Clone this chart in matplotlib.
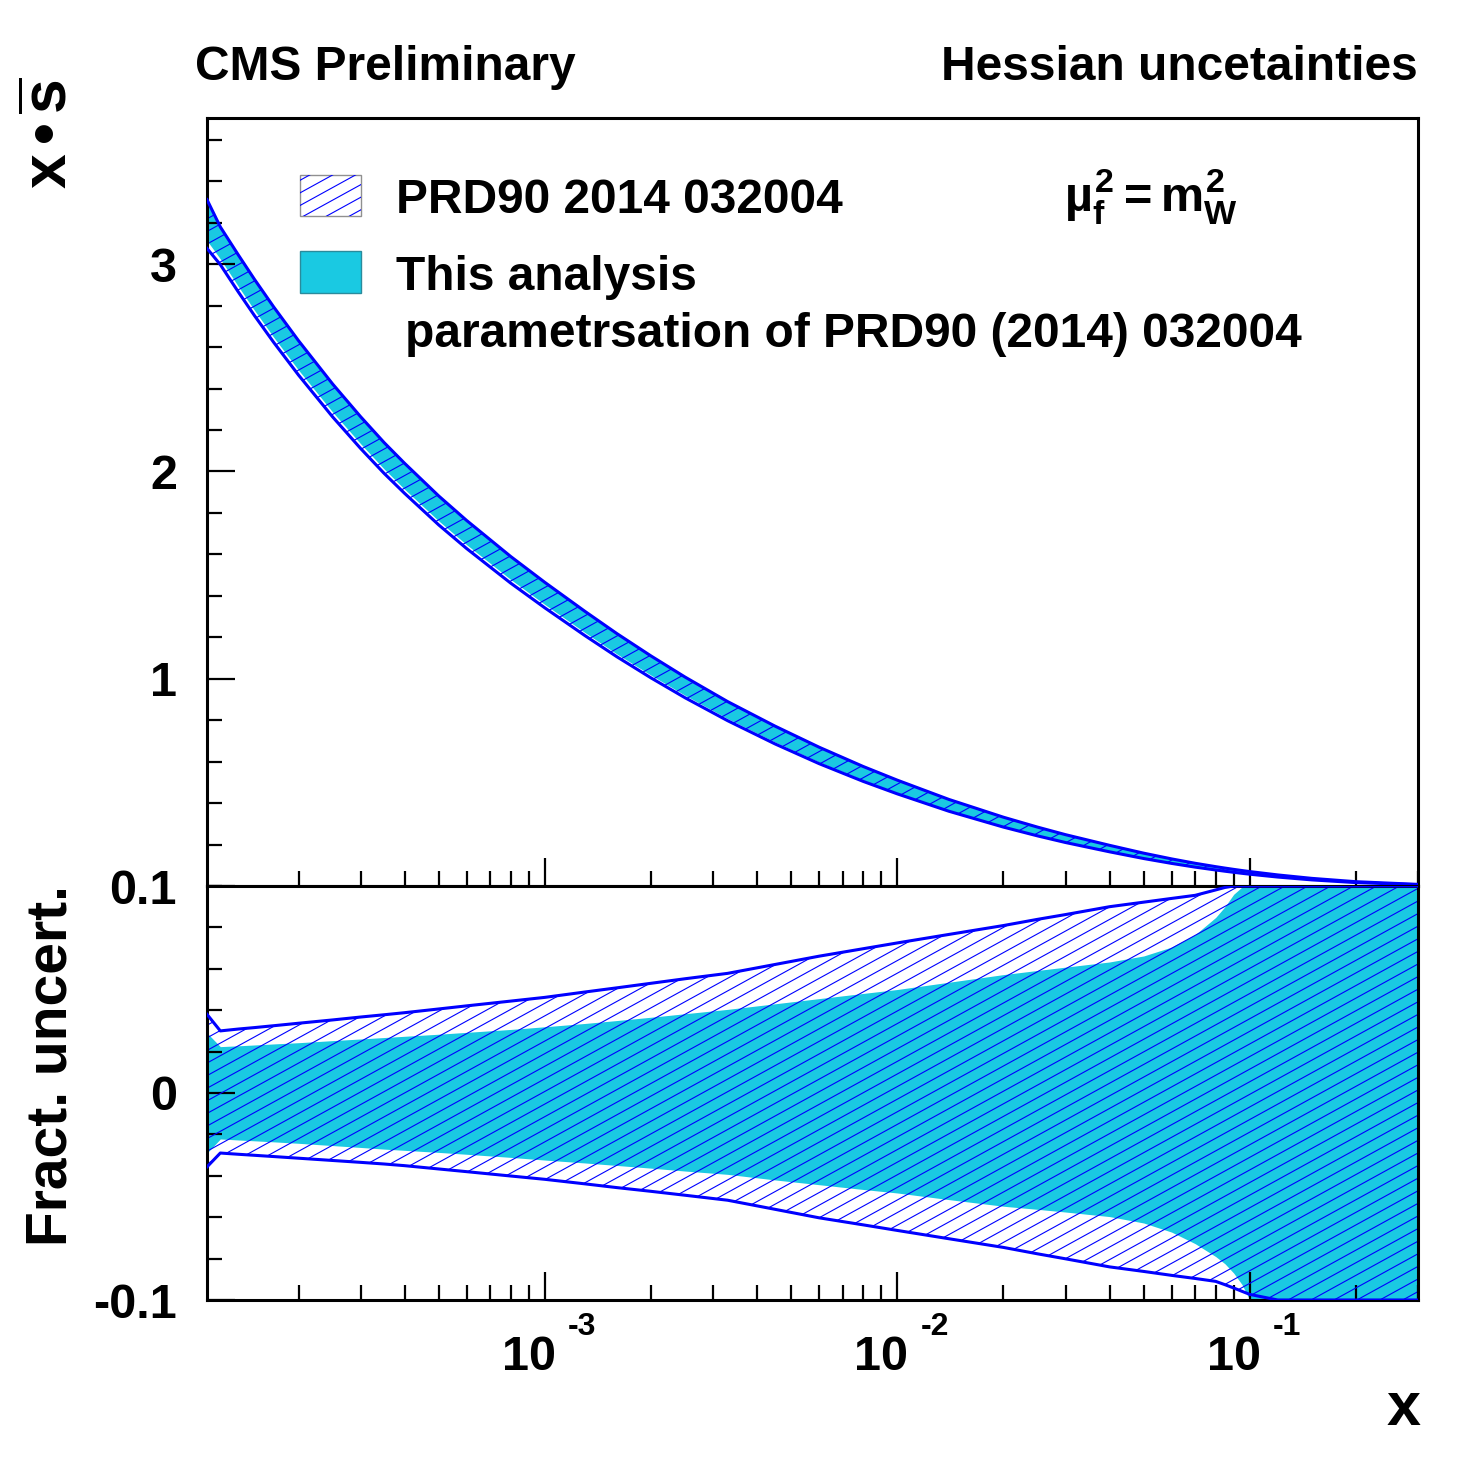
import numpy as np
import matplotlib
matplotlib.use("Agg")
import matplotlib.pyplot as plt
from matplotlib.collections import LineCollection
from matplotlib.transforms import IdentityTransform, blended_transform_factory
from matplotlib.patches import Rectangle
from matplotlib.ticker import FixedLocator, MultipleLocator, LogLocator, NullFormatter, FuncFormatter

plt.rcParams['font.family'] = ['Liberation Sans', 'DejaVu Sans']
plt.rcParams['font.weight'] = 'bold'
plt.rcParams['axes.unicode_minus'] = False
plt.rcParams['mathtext.fontset'] = 'custom'
plt.rcParams['mathtext.rm'] = 'Liberation Sans:bold'
plt.rcParams['mathtext.it'] = 'Liberation Sans:bold'
plt.rcParams['mathtext.bf'] = 'Liberation Sans:bold'
plt.rcParams['mathtext.sf'] = 'Liberation Sans:bold'

# ---------------- data ----------------
x_vals = [1.1e-4, 1.2e-4, 1.35e-4, 1.5e-4, 1.7e-4, 2e-4, 2.5e-4, 3e-4, 3.5e-4, 4e-4,
          5e-4, 6e-4, 8e-4, 1e-3, 1.3e-3, 1.6e-3, 2e-3, 2.5e-3, 3.3e-3, 4.5e-3,
          6e-3, 8e-3, 1e-2, 1.4e-2, 2e-2, 2.5e-2, 3e-2, 4e-2, 5e-2, 6e-2,
          7e-2, 8e-2, 8.5e-2, 9e-2, 9.5e-2, 0.1, 0.12, 0.15, 0.2, 0.3]
# central x*sbar (PRD90 2014 032004)
xsbar_central = [3.190, 3.087, 2.953, 2.837, 2.706, 2.545, 2.339, 2.184, 2.061, 1.963,
                 1.808, 1.692, 1.522, 1.400, 1.263, 1.159, 1.054, 0.955, 0.841, 0.726,
                 0.628, 0.539, 0.476, 0.388, 0.307, 0.262, 0.228, 0.180, 0.145, 0.1195,
                 0.100, 0.085, 0.0786, 0.0729, 0.0677, 0.063, 0.0482, 0.0331, 0.0186, 0.007]
# PRD90 fractional uncertainty (up / down)
prd_up = [0.038, 0.030, 0.0309, 0.0316, 0.0325, 0.0337, 0.0353, 0.0367, 0.0378, 0.0388,
          0.0406, 0.0421, 0.0444, 0.0462, 0.0488, 0.0508, 0.0530, 0.0552, 0.0578, 0.0621,
          0.0661, 0.0697, 0.0725, 0.0766, 0.0809, 0.0839, 0.0862, 0.090, 0.0922, 0.0940,
          0.0955, 0.0981, 0.0993, 0.1005, 0.102, 0.104, 0.108, 0.112, 0.117, 0.122]
prd_dn = [-0.0357, -0.029, -0.0296, -0.0301, -0.0307, -0.0315, -0.0326, -0.0335, -0.0343, -0.0351,
          -0.0367, -0.0380, -0.0401, -0.0417, -0.0439, -0.0457, -0.0475, -0.0494, -0.0518, -0.0562,
          -0.0603, -0.0637, -0.0664, -0.0704, -0.0746, -0.0777, -0.0801, -0.084, -0.0862, -0.0881,
          -0.0896, -0.091, -0.0926, -0.0942, -0.0958, -0.0973, -0.104, -0.11, -0.118, -0.125]
# This analysis fractional uncertainty (up / down)
this_up = [0.029, 0.0224, 0.0228, 0.0232, 0.0237, 0.0243, 0.0253, 0.0261, 0.0268, 0.0274,
           0.0284, 0.0293, 0.0307, 0.032, 0.0336, 0.0350, 0.0366, 0.0383, 0.0404, 0.0431,
           0.0456, 0.0481, 0.0500, 0.0535, 0.0572, 0.0592, 0.0608, 0.0633, 0.0662, 0.0705,
           0.0765, 0.0848, 0.0900, 0.0960, 0.0995, 0.105, 0.12, 0.14, 0.17, 0.2]
this_dn = [-0.029, -0.0222, -0.0227, -0.0231, -0.0236, -0.0243, -0.0254, -0.0263, -0.0271, -0.0277,
           -0.0287, -0.0296, -0.0311, -0.0324, -0.0338, -0.0350, -0.0363, -0.0377, -0.0393, -0.0420,
           -0.0443, -0.0466, -0.0483, -0.0515, -0.0547, -0.0562, -0.0575, -0.0597, -0.0628, -0.0672,
           -0.0728, -0.0790, -0.0825, -0.0870, -0.0925, -0.1, -0.12, -0.14, -0.165, -0.19]
# lower edge of this-analysis band in the top panel (relative to the central curve)
this_top_lo = [-0.024, -0.020, -0.0205, -0.021, -0.0215, -0.022, -0.0225, -0.023, -0.024, -0.025,
               -0.026, -0.027, -0.0285, -0.030, -0.032, -0.034, -0.035, -0.037, -0.040, -0.044,
               -0.048, -0.052, -0.055, -0.060, -0.065, -0.069, -0.072, -0.077, -0.080, -0.083,
               -0.085, -0.087, -0.088, -0.089, -0.090, -0.092, -0.097, -0.105, -0.115, -0.125]

major_x_ticks = [1e-3, 1e-2, 1e-1]

# ---------------- styling ----------------
W = H = 1478
CYAN = '#1ac9e2'
BLUE = '#0000ff'
SLOPE = 0.55
STEP = 12.6
TS = 35

fig = plt.figure(figsize=(W / 100, H / 100), dpi=100)
L, R = 207, 1418


def fy(p):
    return 1 - p / H


def fx(p):
    return p / W


ax1 = fig.add_axes([L / W, fy(886), (R - L) / W, fy(118) - fy(886)])
ax2 = fig.add_axes([L / W, fy(1300), (R - L) / W, fy(886) - fy(1300)])


def make_hatch(clip_path, clip_transform=None, clip_box=None, zorder=2):
    cs = np.arange(-SLOPE * W - 20, H + 20, STEP)
    segs = [[(0, c0), (W, c0 + SLOPE * W)] for c0 in cs]
    lc = LineCollection(segs, colors=BLUE, linewidths=0.8, transform=IdentityTransform(),
                        zorder=zorder)
    if clip_transform is None:
        lc.set_clip_path(clip_path)
    else:
        lc.set_clip_path(clip_path, clip_transform)
    if clip_box is not None:
        lc.set_clip_box(clip_box)
    return lc


xa = np.array(x_vals)
c = np.array(xsbar_central)
pu = np.array(prd_up)
pd = np.array(prd_dn)

# ---- top panel ----
ax1.set_xscale('log')
ax1.fill_between(xa, c * (1 + np.array(this_top_lo)), c * (1 + pu), color=CYAN, lw=0, zorder=1)
poly1 = ax1.fill_between(xa, c * (1 + pd), c * (1 + pu), facecolor='none', edgecolor='none', lw=0)
ax1.add_collection(make_hatch(poly1.get_paths()[0], poly1.get_transform(), ax1.bbox), autolim=False)
ax1.plot(xa, c * (1 + pu), color=BLUE, lw=2.2, zorder=4)
ax1.plot(xa, c * (1 + pd), color=BLUE, lw=2.2, zorder=4)
ax1.set_xlim(1.1e-4, 0.3)
ax1.set_ylim(0, 3.705)

# ---- bottom panel ----
ax2.set_xscale('log')
ax2.fill_between(xa, this_dn, this_up, color=CYAN, lw=0, zorder=1)
poly2 = ax2.fill_between(xa, prd_dn, prd_up, facecolor='none', edgecolor='none', lw=0)
ax2.add_collection(make_hatch(poly2.get_paths()[0], poly2.get_transform(), ax2.bbox), autolim=False)
ax2.plot(xa, np.clip(pu, -0.1, 0.1), color=BLUE, lw=2.2, zorder=4)
ax2.plot(xa, np.clip(pd, -0.1, 0.1), color=BLUE, lw=2.2, zorder=4)
ax2.set_xlim(1.1e-4, 0.3)
ax2.set_ylim(-0.1, 0.1)

for ax in (ax1, ax2):
    for sp in ax.spines.values():
        sp.set_linewidth(2.2)
    ax.xaxis.set_major_locator(FixedLocator(major_x_ticks))
    ax.xaxis.set_minor_locator(LogLocator(base=10, subs=np.arange(2, 10), numticks=20))
    ax.xaxis.set_major_formatter(NullFormatter())
    ax.xaxis.set_minor_formatter(NullFormatter())
    ax.tick_params(which='both', direction='in', top=False, right=False, width=1.6,
                   labelsize=TS, pad=21.6)
    ax.tick_params(which='major', length=20.5)
    ax.tick_params(which='minor', length=10.8)

ax1.yaxis.set_major_locator(FixedLocator([1, 2, 3]))
ax1.yaxis.set_minor_locator(MultipleLocator(0.2))
ax1.yaxis.set_major_formatter(FuncFormatter(lambda v, p: f'{v:g}'))
ax2.yaxis.set_major_locator(FixedLocator([-0.1, 0, 0.1]))
ax2.yaxis.set_minor_locator(MultipleLocator(0.02))
ax2.yaxis.set_major_formatter(FuncFormatter(lambda v, p: f'{v:g}'))
for ax in (ax1, ax2):
    for lab in ax.get_yticklabels():
        lab.set_fontweight('bold')

# x tick labels, ROOT style 10^n
btr = blended_transform_factory(ax2.transData, ax2.transAxes)
for t in major_x_ticks:
    ax2.annotate('10', xy=(t, 0), xycoords=btr, xytext=(11, -70), textcoords='offset pixels',
                 ha='right', va='baseline', fontsize=TS, fontweight='bold')
    ax2.annotate(f'{int(round(np.log10(t)))}', xy=(t, 0), xycoords=btr, xytext=(23, -35),
                 textcoords='offset pixels', ha='left', va='baseline', fontsize=23,
                 fontweight='bold')

# titles
fig.text(fx(195), fy(80), 'CMS Preliminary', fontsize=34.5, fontweight='bold', ha='left', va='baseline')
fig.text(fx(1418), fy(80), 'Hessian uncetainties', fontsize=34.5, fontweight='bold', ha='right', va='baseline')

# axis titles
fig.text(fx(1421), fy(1425), 'x', fontsize=44, fontweight='bold', ha='right', va='baseline')
fig.text(fx(67), fy(885), 'Fract. uncert.', fontsize=41, fontweight='bold', rotation=90,
         rotation_mode='anchor', ha='right', va='baseline')
fig.text(fx(67), fy(77), r'$x\,•\,\overline{s}$', fontsize=45, rotation=90,
         rotation_mode='anchor', ha='right', va='baseline')

# legend
r1 = Rectangle((fx(300), fy(216)), fx(61), fy(175) - fy(216), transform=fig.transFigure,
               facecolor='white', edgecolor='#909090', lw=1.0, zorder=5)
fig.add_artist(r1)
fig.add_artist(make_hatch(r1, zorder=6))
r2 = Rectangle((fx(300), fy(293)), fx(61), fy(251) - fy(293), transform=fig.transFigure,
               facecolor=CYAN, edgecolor='#2a8b9c', lw=1.0, zorder=5)
fig.add_artist(r2)
fig.text(fx(396), fy(213), 'PRD90 2014 032004', fontsize=34.5, fontweight='bold', ha='left', va='baseline')
fig.text(fx(396), fy(290), 'This analysis', fontsize=34.5, fontweight='bold', ha='left', va='baseline')
fig.text(fx(405), fy(347), 'parametrsation of PRD90 (2014) 032004', fontsize=34.5, fontweight='bold',
         ha='left', va='baseline')
fig.text(fx(1151), fy(211), r'$µ_f^2 = m_W^2$', fontsize=35, ha='center', va='baseline')

fig.savefig('out.png', dpi=100)
